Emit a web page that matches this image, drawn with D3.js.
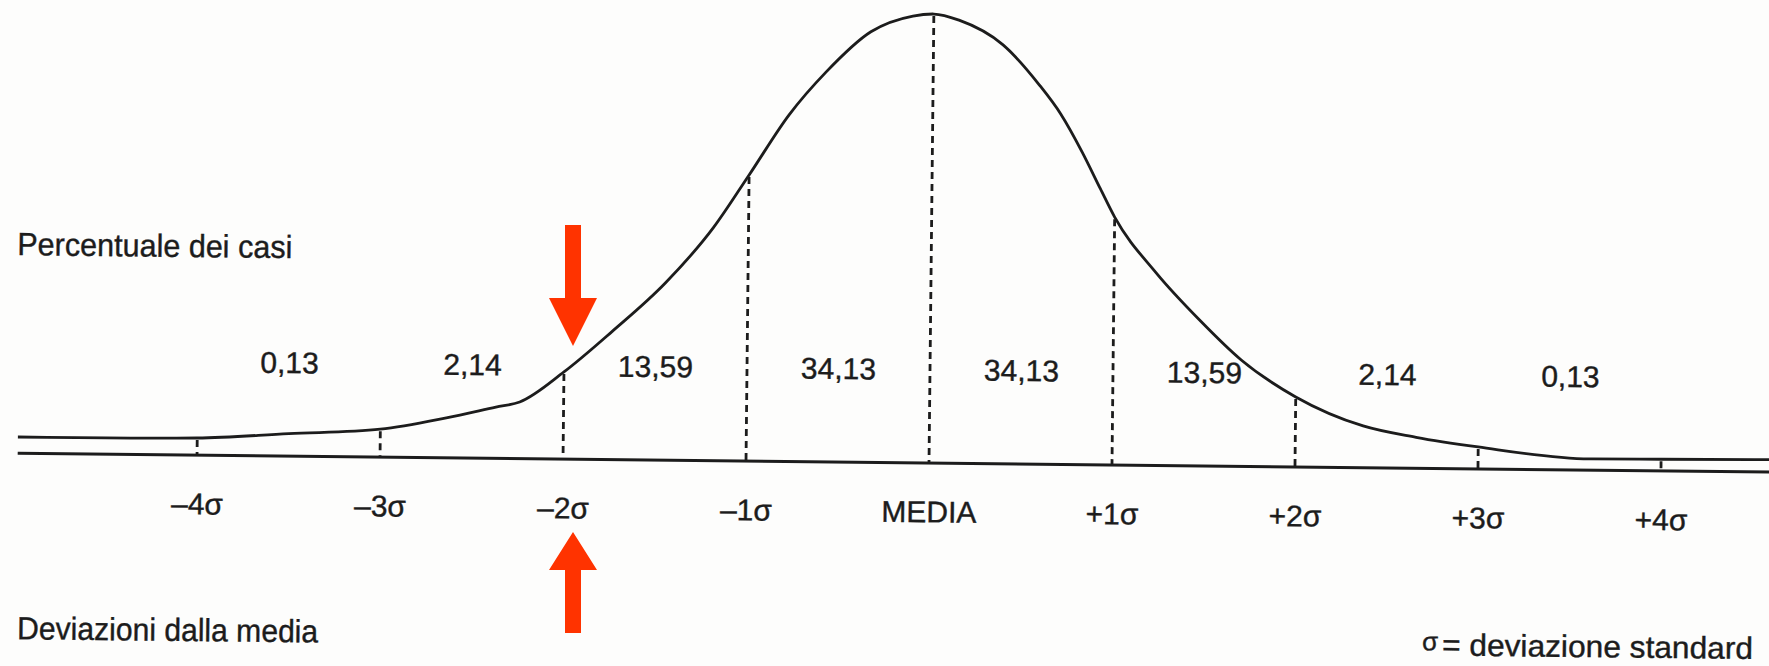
<!DOCTYPE html>
<html>
<head>
<meta charset="utf-8">
<script src="https://cdn.jsdelivr.net/npm/d3@7"></script>
<style>
  html, body { margin: 0; padding: 0; background: #fdfdfc; }
  svg { display: block; }
</style>
</head>
<body>
<div id="chart"></div>
<script>
// sigma positions and their labels
var sigmaTicks = [-4, -3, -2, -1, 0, 1, 2, 3, 4];
var tickLabels = ["–4σ", "–3σ", "–2σ", "–1σ", "MEDIA", "+1σ", "+2σ", "+3σ", "+4σ"];

// percentage of cases in each band
var bandCenters = [-3.5, -2.5, -1.5, -0.5, 0.5, 1.5, 2.5, 3.5];
var bandPercents = ["0,13", "2,14", "13,59", "34,13", "34,13", "13,59", "2,14", "0,13"];

// the drawn curve (height relative to peak = 100)
var curveSigma  = [-4.98, -4.5, -4, -3.5, -3, -2.64, -2.37, -2.24, -2, -1.74, -1.45, -1.19, -1, -0.785, -0.586, -0.343, -0.114, 0,
                   0.138, 0.38, 0.58, 0.7, 0.82, 0.92, 1, 1.23, 1.47, 1.7, 2, 2.37, 2.66, 3, 3.61, 4, 4.7];
var curveHeight = [3.6, 3.6, 3.8, 5.0, 6.2, 8.9, 11.4, 12.6, 19.4, 28.5, 39.5, 52.0, 63.7, 77.2, 86.8, 95.9, 99.5, 100,
                   98.7, 93.3, 84.5, 78.0, 69.5, 61.5, 55.2, 42.9, 32.5, 23.7, 15.6, 9.3, 6.9, 4.9, 2.5, 2.6, 2.8];

var w = 1769;
var h = 666;
var font = "'Liberation Sans', Arial, Helvetica, sans-serif";
var ink = "#1c1c1c";

var x = d3.scaleLinear().domain([-4, 4]).range([197, 1661]);
var y = d3.scaleLinear().domain([0, 100]).range([463, 14]);

var svg = d3.select("#chart")
  .append("svg")
  .attr("width", w)
  .attr("height", h);

svg.append("rect")
  .attr("width", w)
  .attr("height", h)
  .attr("fill", "#fdfdfc");

// the scan is slightly tilted
var g = svg.append("g")
  .attr("transform", "rotate(0.62," + x(0) + "," + y(0) + ")");

var pts = curveSigma.map(function(s, i) { return [s, curveHeight[i]]; });

// dashed verticals from the curve down to the baseline
g.selectAll(".drop")
  .data(sigmaTicks)
  .enter()
  .append("line")
  .attr("class", "drop")
  .attr("x1", function(d) { return x(d); })
  .attr("x2", function(d) { return x(d); })
  .attr("y1", function(d) { return y(curveHeight[curveSigma.indexOf(d)]) + 2; })
  .attr("y2", y(0))
  .attr("stroke", ink)
  .attr("stroke-width", 2.8)
  .attr("stroke-dasharray", "7,5");

// baseline
g.append("line")
  .attr("x1", x(-4.98))
  .attr("x2", x(4.7))
  .attr("y1", y(0))
  .attr("y2", y(0))
  .attr("stroke", ink)
  .attr("stroke-width", 3);

var line = d3.line()
  .x(function(d) { return x(d[0]); })
  .y(function(d) { return y(d[1]); })
  .curve(d3.curveMonotoneX);

g.append("path")
  .datum(pts)
  .attr("d", line)
  .attr("fill", "none")
  .attr("stroke", ink)
  .attr("stroke-width", 2.8)
  .attr("stroke-linejoin", "round");

// sigma labels under the baseline
var axis = d3.axisBottom(x)
  .tickValues(sigmaTicks)
  .tickFormat(function(d, i) { return tickLabels[i]; })
  .tickSize(0)
  .tickPadding(38);

var ax = g.append("g")
  .attr("transform", "translate(0," + y(0) + ")")
  .call(axis);
ax.select(".domain").remove();
ax.selectAll("text")
  .attr("font-size", 30)
  .attr("font-family", font)
  .attr("fill", ink)
  .attr("stroke", ink)
  .attr("stroke-width", 0.4);

// percentages
g.selectAll(".pct")
  .data(bandCenters)
  .enter()
  .append("text")
  .attr("class", "pct")
  .attr("x", function(d) { return x(d); })
  .attr("y", 380)
  .attr("text-anchor", "middle")
  .attr("font-family", font)
  .attr("font-size", 30)
  .attr("fill", ink)
  .attr("stroke", ink)
  .attr("stroke-width", 0.4)
  .text(function(d, i) { return bandPercents[i]; });

var notes = g.append("g")
  .attr("font-family", font)
  .attr("fill", ink)
  .attr("stroke", ink)
  .attr("stroke-width", 0.4);

notes.append("text")
  .attr("x", 15)
  .attr("y", 265)
  .attr("font-size", 32)
  .attr("textLength", 275)
  .attr("lengthAdjust", "spacingAndGlyphs")
  .text("Percentuale dei casi");

notes.append("text")
  .attr("x", 19)
  .attr("y", 649)
  .attr("font-size", 32)
  .attr("textLength", 301)
  .attr("lengthAdjust", "spacingAndGlyphs")
  .text("Deviazioni dalla media");

notes.append("text")
  .attr("x", 1424)
  .attr("y", 645)
  .attr("font-size", 26)
  .text("σ");

notes.append("text")
  .attr("x", 1444)
  .attr("y", 650)
  .attr("font-size", 31)
  .attr("textLength", 311)
  .attr("lengthAdjust", "spacingAndGlyphs")
  .text("= deviazione standard");

// red arrows pointing at -2 sigma
var ax2 = x(-2) + 10;
var arrowDown = [[ax2 - 8, 225], [ax2 + 8, 225], [ax2 + 8, 298], [ax2 + 24, 298], [ax2, 346],
                 [ax2 - 24, 298], [ax2 - 8, 298]];
var arrowUp = [[ax2 - 8, 633], [ax2 + 8, 633], [ax2 + 8, 570], [ax2 + 24, 570], [ax2, 532],
               [ax2 - 24, 570], [ax2 - 8, 570]];

svg.selectAll(".arrow")
  .data([arrowDown, arrowUp])
  .enter()
  .append("path")
  .attr("class", "arrow")
  .attr("d", function(d) { return "M" + d.join("L") + "Z"; })
  .attr("fill", "#ff3300");
</script>
</body>
</html>
